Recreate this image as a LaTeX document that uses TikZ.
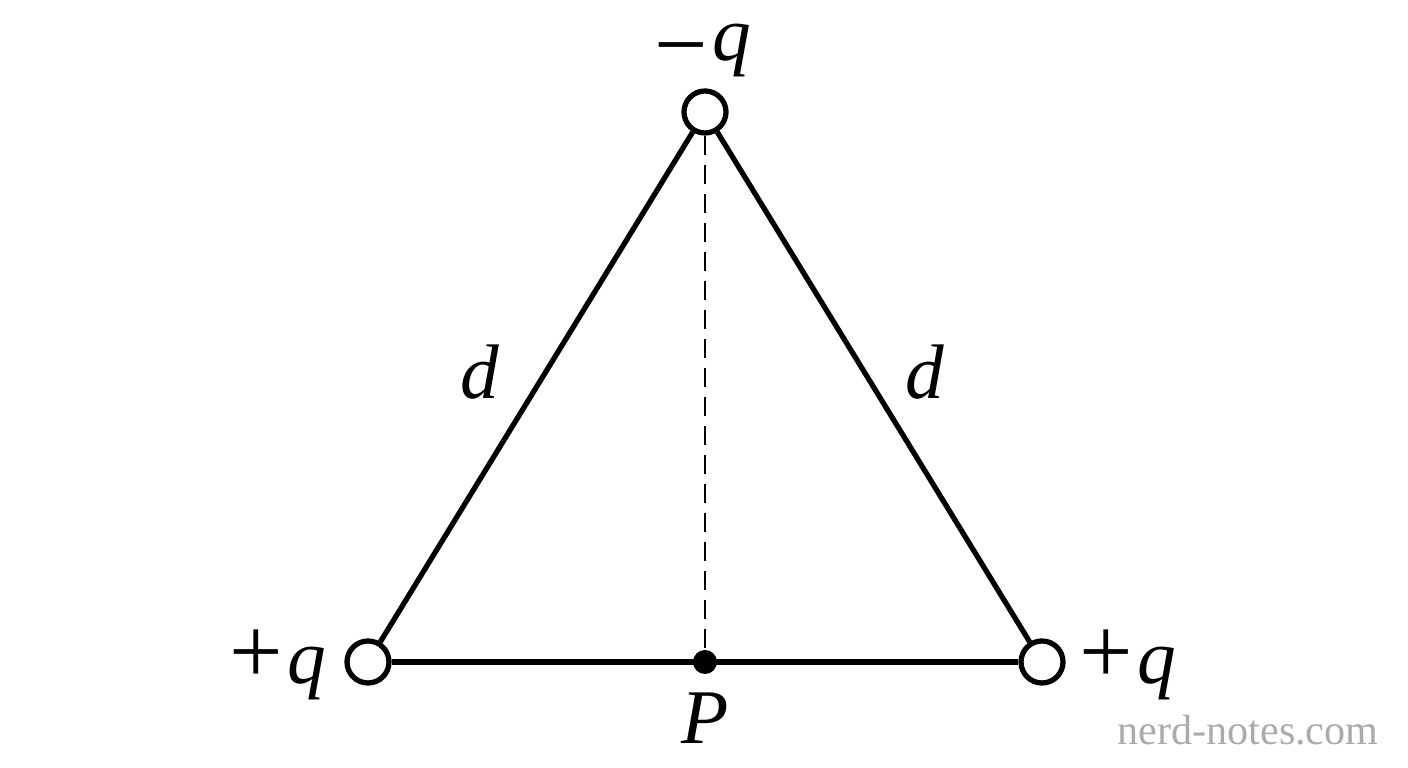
\documentclass[tikz,border=0pt]{standalone}
\usepackage{fontspec}
\setmainfont{Liberation Serif}
\newcommand{\chsign}[2][0em]{\raisebox{#1}{\upshape\fontsize{27}{26}\selectfont #2}\kern0.06em}
\begin{document}
\begin{tikzpicture}[
    charge/.style={circle,draw,line width=1.5pt,fill=white,minimum size=0.42cm,inner sep=0pt},
    label/.style={font=\fontsize{22}{26}\selectfont\itshape,inner sep=1pt},
    side/.style={line width=1.5pt}]
      \useasboundingbox (0,0) rectangle (14.08,7.68);
      \draw
        (3.68,1.06) node[charge] (1){}
        (7.05,6.56) node[charge] (2){}
        (10.42,1.06) node[charge] (3){};
      \fill (7.05,1.06) circle (0.12) coordinate (P);
      \begin{scope}[side]
        \draw (1) to (2);
        \draw (2) to (3);
        \draw (1) to (3);
      \end{scope}
      \draw[line width=0.5pt,dash pattern=on 0.19cm off 0.1cm] (2) to (P);
      \draw
        (7.03,7.17) node[label] (q2){\chsign[-0.2em]{−}q}
        (2.78,1.03) node[label] (q1){\chsign{+}q}
        (11.28,1.03) node[label] (q3){\chsign{+}q}
        (7.05,0.50) node[label] (p){P}
        (4.80,3.96) node[label] (d1){d}
        (9.25,3.96) node[label] (d2){d};
      \node[text=black!33,font=\fontsize{12}{14}\selectfont] (wm) at (12.48,0.38) {nerd-notes.com};
    \end{tikzpicture}
\end{document}
